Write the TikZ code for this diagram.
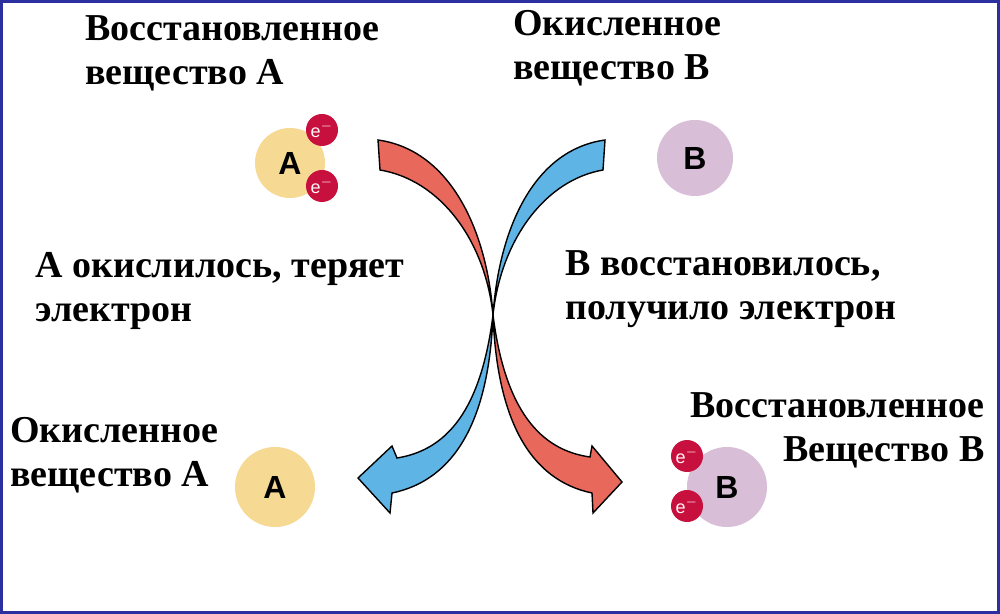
\documentclass[tikz,border=0pt]{standalone}
\usepackage{fontspec}
\setmainfont{Liberation Serif}
\setsansfont{Liberation Sans}
\definecolor{frameblue}{HTML}{2B2FA0}
\definecolor{subA}{HTML}{F6D992}
\definecolor{subB}{HTML}{D8BED6}
\definecolor{elec}{HTML}{C8103E}
\definecolor{redarr}{HTML}{E8685C}
\definecolor{bluearr}{HTML}{5FB4E6}
\tikzset{
  lbl/.style={font=\fontsize{19}{22}\selectfont\bfseries, align=left, inner sep=0pt},
  atom/.style={circle, inner sep=0pt, font=\sffamily\bfseries\fontsize{16}{16}\selectfont},
  electron/.style={circle, fill=elec, minimum size=16pt, inner sep=0pt, text=white!85!pink, font=\sffamily\fontsize{9}{9}\selectfont}
}
\begin{document}
\begin{tikzpicture}[x=0.5pt,y=-0.5pt]
  \useasboundingbox (0,0) rectangle (1000,614);
  \fill[white] (0,0) rectangle (1000,614);
  \draw[frameblue, line width=2pt] (1,1) rectangle (999,613);

  % arrows
  \filldraw[fill=redarr, draw=black, line width=0.7pt]
    (378,140) .. controls (450,150) and (487,230) .. (493,315)
    .. controls (505,410) and (540,450) .. (590,457) -- (592,446) -- (622,482)
    -- (593,513) -- (592,493) .. controls (530,480) and (497,420) .. (493,315)
    .. controls (485,240) and (440,180) .. (380,170) -- cycle;
  \filldraw[fill=bluearr, draw=black, line width=0.7pt]
    (605,140) .. controls (533,150) and (499,230) .. (493,315)
    .. controls (481,410) and (447,450) .. (397,458) -- (392,446) -- (358,478)
    -- (390,513) -- (392,493) .. controls (455,480) and (489,420) .. (493,315)
    .. controls (501,240) and (545,180) .. (603,170) -- cycle;

  % substances
  \node[atom, fill=subA, minimum size=35pt] (atopA) at (290,163) {A};
  \node[electron] (etop1) at (322,130) {e$^{-}$};
  \node[electron] (etop2) at (322,186) {e$^{-}$};
  \node[atom, fill=subB, minimum size=38pt] (atopB) at (695,158) {B};
  \node[atom, fill=subA, minimum size=40pt] (abotA) at (275,487) {A};
  \node[atom, fill=subB, minimum size=40pt] (abotB) at (727,487) {B};
  \node[electron] (ebot1) at (687,456) {e$^{-}$};
  \node[electron] (ebot2) at (687,506) {e$^{-}$};

  % labels
  \node[lbl, anchor=north west] (ltopA) at (85,15) {Восстановленное\\вещество А};
  \node[lbl, anchor=north west] (ltopB) at (513,10) {Окисленное\\вещество В};
  \node[lbl, anchor=north west] (lox) at (35,252) {А окислилось, теряет\\электрон};
  \node[lbl, anchor=north west] (lred) at (565,250) {В восстановилось,\\получило электрон};
  \node[lbl, anchor=north west] (lbotA) at (10,417) {Окисленное\\вещество А};
  \node[lbl, anchor=north east, align=right] (lbotB) at (985,392) {Восстановленное\\Вещество В};
\end{tikzpicture}
\end{document}
